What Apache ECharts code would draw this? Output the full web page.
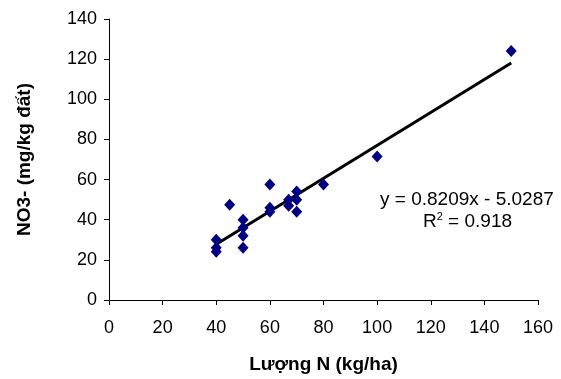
<!DOCTYPE html>
<html>
<head>
<meta charset="utf-8">
<script src="https://cdn.jsdelivr.net/npm/echarts@6/dist/echarts.min.js"></script>
<style>html,body{margin:0;padding:0;background:#fff}#c{width:561px;height:379px}</style>
</head>
<body>
<div id="c"></div>
<script>
const xValues = [40, 40, 40, 45, 50, 50, 50, 50, 60, 60, 60, 67, 67, 70, 70, 70, 80, 100, 150];
const yValues = [30, 26, 24, 47.5, 40, 36, 32, 26, 57.5, 46, 44, 50, 47, 54, 50, 44, 57.5, 71.5, 124];
const slope = 0.8209;
const intercept = -5.0287;
const trendX = [40, 150];
const xTicks = [0, 20, 40, 60, 80, 100, 120, 140, 160];
const yTicks = [0, 20, 40, 60, 80, 100, 120, 140];
const xName = 'Lượng N (kg/ha)';
const yName = 'NO3- (mg/kg đất)';
const eqText = 'y = 0.8209x - 5.0287';
const r2Value = '0.918';

const points = xValues.map((x, i) => [x, yValues[i]]);
const trend = trendX.map(x => [x, slope * x + intercept]);
const font = 'Liberation Sans, Arial, sans-serif';

const chart = echarts.init(document.getElementById('c'));
chart.setOption({
  animation: false,
  backgroundColor: '#fff',
  grid: { left: 109, right: 23, top: 19, bottom: 77.5, containLabel: false },
  xAxis: {
    type: 'value', min: xTicks[0], max: xTicks[xTicks.length - 1], interval: 20,
    name: xName, nameLocation: 'middle', nameGap: 55,
    nameTextStyle: { fontFamily: font, fontWeight: 'bold', fontSize: 19, color: '#000' },
    axisLine: { show: true, lineStyle: { color: '#000', width: 1 } },
    axisTick: { show: true, length: 5, lineStyle: { color: '#000' } },
    axisLabel: { fontFamily: font, fontSize: 18, color: '#000', margin: 19 },
    splitLine: { show: false }
  },
  yAxis: {
    type: 'value', min: yTicks[0], max: yTicks[yTicks.length - 1], interval: 20,
    name: yName, nameLocation: 'middle', nameGap: 75, nameRotate: 90,
    nameTextStyle: { fontFamily: font, fontWeight: 'bold', fontSize: 19, color: '#000' },
    axisLine: { show: true, lineStyle: { color: '#000', width: 1 } },
    axisTick: { show: true, length: 5, lineStyle: { color: '#000' } },
    axisLabel: { fontFamily: font, fontSize: 18, color: '#000', margin: 12 },
    splitLine: { show: false }
  },
  graphic: [
    { type: 'text', left: 380, top: 190, style: { text: eqText, font: '19px ' + font, fill: '#000' } },
    { type: 'text', left: 423, top: 211, style: {
      text: '{a|R}{s|2}{a| = ' + r2Value + '}',
      rich: {
        a: { fontFamily: font, fontSize: 19, fill: '#000', color: '#000', verticalAlign: 'bottom' },
        s: { fontFamily: font, fontSize: 11, fill: '#000', color: '#000', verticalAlign: 'top', padding: [0, 0, 9, 0] }
      }
    } }
  ],
  series: [
    {
      type: 'line', data: trend, showSymbol: false, symbol: 'none',
      lineStyle: { color: '#000', width: 3 }, z: 2
    },
    {
      type: 'scatter', data: points, symbol: 'diamond', symbolSize: [11, 12],
      itemStyle: { color: '#000080', opacity: 1 }, z: 3
    }
  ]
});
</script>
</body>
</html>
